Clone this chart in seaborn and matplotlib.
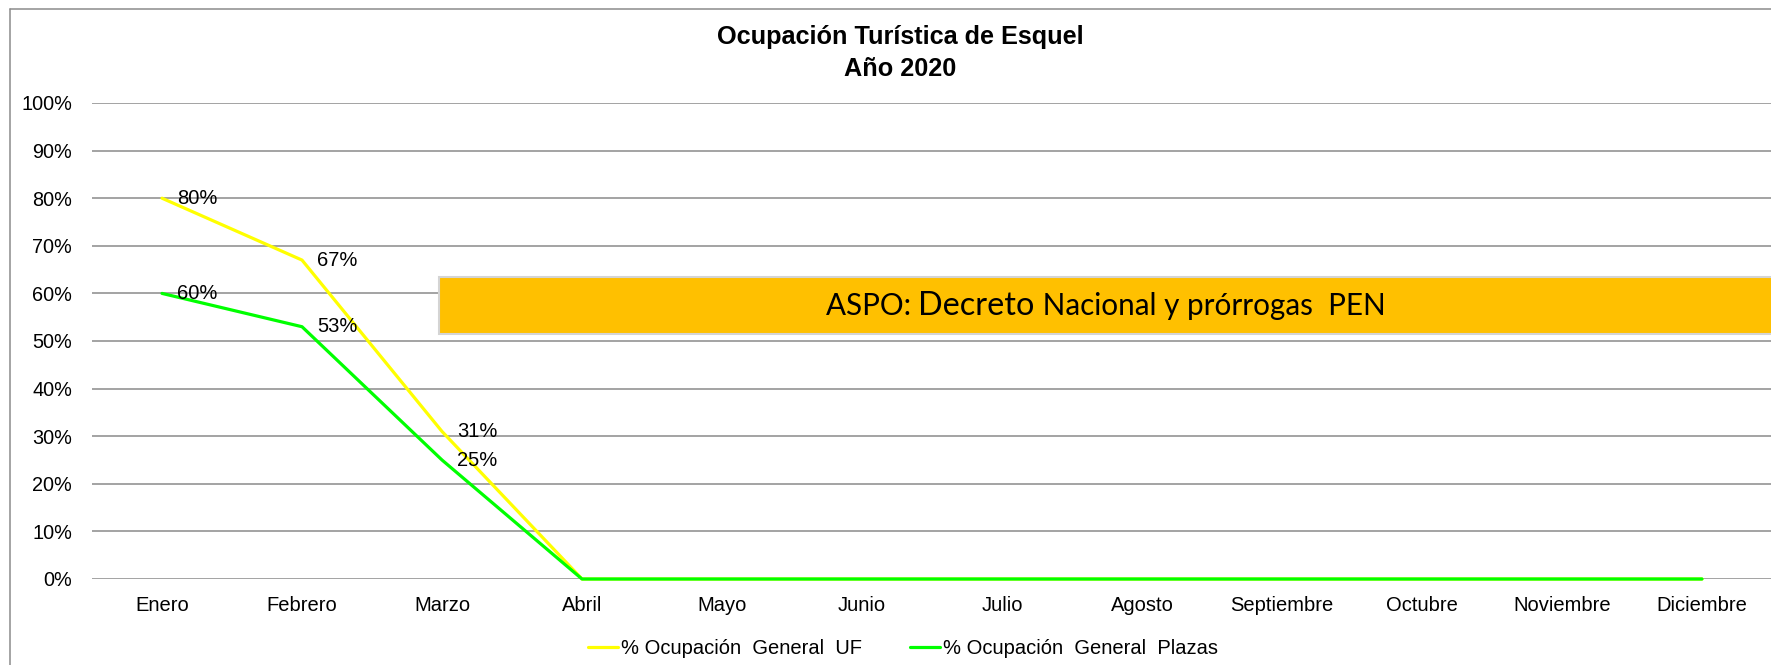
import numpy as np
import pandas as pd
import matplotlib
matplotlib.use("Agg")
import matplotlib.pyplot as plt
import seaborn as sns
from matplotlib.patches import Rectangle
from matplotlib.lines import Line2D
from matplotlib.ticker import PercentFormatter
from matplotlib.offsetbox import TextArea, HPacker, AnnotationBbox

# ---- data ----
months = ["Enero", "Febrero", "Marzo", "Abril", "Mayo", "Junio", "Julio",
          "Agosto", "Septiembre", "Octubre", "Noviembre", "Diciembre"]
ocup_uf = [0.80, 0.67, 0.31, 0, 0, 0, 0, 0, 0, 0, 0, 0]
ocup_plazas = [0.60, 0.53, 0.25, 0, 0, 0, 0, 0, 0, 0, 0, 0]
series_names = ["% Ocupación  General  UF", "% Ocupación  General  Plazas"]
series_colors = ["#FFFF00", "#00FF00"]
labelled_points = 3  # data labels only on first three months
title_lines = ["Ocupación Turística de Esquel", "Año 2020"]
aspo_parts = ["ASPO: ", "Decreto", " Nacional y prórrogas  PEN"]
aspo_x_range = (1.979, 12.5)
aspo_y_range = (0.515, 0.634)

df = pd.DataFrame({
    "Mes": months * 2,
    "Valor": ocup_uf + ocup_plazas,
    "Serie": [series_names[0]] * len(months) + [series_names[1]] * len(months),
})

sns.set_theme(style="white")
plt.rcParams["font.family"] = ["Liberation Sans", "DejaVu Sans"]
plt.rcParams["text.color"] = "black"
plt.rcParams["axes.labelcolor"] = "black"
plt.rcParams["xtick.color"] = "black"
plt.rcParams["ytick.color"] = "black"

W, H = 1771, 665
fig = plt.figure(figsize=(W / 100, H / 100), dpi=100)
ax = fig.add_axes([92 / W, 86 / H, 1680 / W, 476 / H])

sns.lineplot(data=df, x="Mes", y="Valor", hue="Serie",
             palette=dict(zip(series_names, series_colors)),
             linewidth=2.3, ax=ax, sort=False, clip_on=False, zorder=3)

ax.set_xlim(-0.5, 11.5)
ax.set_ylim(0, 1.0)
ax.set_yticks(np.arange(0, 1.01, 0.1))
ax.yaxis.set_major_formatter(PercentFormatter(1.0, decimals=0))
ax.set_xlabel("")
ax.set_ylabel("")
for s in ax.spines.values():
    s.set_visible(False)
ax.grid(axis="y", color="#8a8a8a", linewidth=1.1)
ax.grid(axis="x", visible=False)
ax.set_axisbelow(True)
ax.tick_params(axis="y", length=0, pad=14.4, labelsize=14.3, labelcolor="black")
ax.tick_params(axis="x", length=0, pad=12.5, labelsize=14.5, labelcolor="black")

# ASPO box
ax.add_patch(Rectangle((aspo_x_range[0], aspo_y_range[0]),
                       aspo_x_range[1] - aspo_x_range[0],
                       aspo_y_range[1] - aspo_y_range[0],
                       facecolor="#FFC000", edgecolor="#D4D4D4", linewidth=1.5,
                       zorder=1, clip_on=True))
sizes = [21.3, 23.3, 21.3]
areas = [TextArea(t, textprops=dict(family="Lato", size=sz, color="black"))
         for t, sz in zip(aspo_parts, sizes)]
pack = HPacker(children=areas, align="baseline", pad=0, sep=0)
ab = AnnotationBbox(pack, (6.74, 0.5745), xycoords="data", frameon=False,
                    box_alignment=(0.5, 0.5), zorder=4)
ax.add_artist(ab)

# data labels
for vals in (ocup_uf, ocup_plazas):
    for m, v in list(zip(months, vals))[:labelled_points]:
        ax.annotate(f"{v * 100:.0f}%", xy=(m, v), xytext=(10.8, 0),
                    textcoords="offset points", va="center", ha="left",
                    fontsize=14.5, color="black", zorder=5)

# legend
handles, labels = ax.get_legend_handles_labels()
if ax.legend_ is not None:
    ax.legend_.remove()
fig.legend(handles, labels, loc="center", bbox_to_anchor=(903 / W, 1 - 649 / H),
           ncol=2, frameon=False, fontsize=14.5, handlelength=1.5,
           handletextpad=0.15, columnspacing=2.4, borderpad=0)

# title
fig.text(900 / W, 1 - 44 / H, title_lines[0], ha="center", va="baseline",
         fontsize=18.2, fontweight="bold", color="black")
fig.text(900 / W, 1 - 76 / H, title_lines[1], ha="center", va="baseline",
         fontsize=18.2, fontweight="bold", color="black")

# outer chart frame
fig.add_artist(Line2D([9.5 / W, 9.5 / W], [0, 1 - 8.5 / H], color="#8c8c8c",
                      linewidth=1.1, transform=fig.transFigure))
fig.add_artist(Line2D([9.5 / W, 1], [1 - 8.5 / H, 1 - 8.5 / H], color="#8c8c8c",
                      linewidth=1.1, transform=fig.transFigure))

fig.savefig("out.png", dpi=100)
